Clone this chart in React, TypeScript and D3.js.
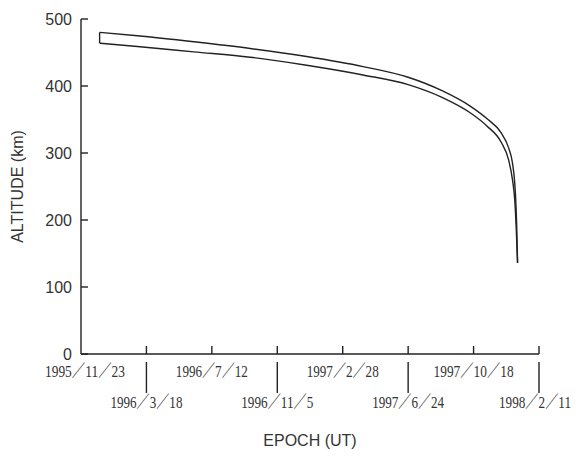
import React from "react";
import * as d3 from "d3";

// day offsets counted from the first tick date (1995/11/23)
const startDate = new Date(1995, 10, 23);
const upperDays = [33, 100, 200, 300, 400, 500, 580, 640, 690, 720, 745, 758, 765, 769, 771, 772.5, 774];
const upperAlt = [480, 475, 466, 456, 444, 429, 413, 393, 370, 351, 330, 308, 285, 255, 225, 190, 136];
const lowerDays = [33, 100, 200, 300, 400, 500, 580, 640, 690, 720, 745, 758, 765, 769, 771.5, 774];
const lowerAlt = [464, 459, 451, 443, 431, 416.5, 402, 383, 360, 340, 316, 290, 260, 230, 190, 136];

const tickLabels = [
  "1995／11／23",
  "1996／3／18",
  "1996／7／12",
  "1996／11／5",
  "1997／2／28",
  "1997／6／24",
  "1997／10／18",
  "1998／2／11",
];
const tickStep = 116; // days between ticks
const yTicks = [0, 100, 200, 300, 400, 500];

const W = 580;
const H = 457;
const left = 81;
const right = 539;
const top = 19;
const bottom = 354;

const App = () => {
  const dayToDate = (d: number) => new Date(startDate.getTime() + d * 864e5);
  const endDate = dayToDate(tickStep * (tickLabels.length - 1));
  const x = d3.scaleTime().domain([startDate, endDate]).range([left, right]);
  const y = d3.scaleLinear().domain([0, 500]).range([bottom, top]);

  const line = d3
    .line<[number, number]>()
    .x((d) => x(dayToDate(d[0])))
    .y((d) => y(d[1]))
    .curve(d3.curveMonotoneX);

  const upper = upperDays.map((d, i) => [d, upperAlt[i]] as [number, number]);
  const lower = lowerDays.map((d, i) => [d, lowerAlt[i]] as [number, number]);
  const tickDates = tickLabels.map((_, i) => dayToDate(i * tickStep));

  const labelFont = "'Liberation Serif', 'Noto Sans CJK JP', serif";
  const sans = "'Liberation Sans', Arial, sans-serif";
  const ink = "#222";
  const last = tickLabels.length - 1;

  return (
    <svg
      width={W}
      height={H}
      style={{ position: "absolute", left: 0, top: 0, background: "#fff" }}
    >
      {/* y axis */}
      <line x1={left} x2={left} y1={y(500)} y2={y(0)} stroke={ink} strokeWidth={1.4} />
      {yTicks.map((t) => (
        <g key={t}>
          <line x1={left} x2={left + 7} y1={y(t)} y2={y(t)} stroke={ink} strokeWidth={1.4} />
          <text
            x={left - 9}
            y={y(t)}
            dy="0.35em"
            textAnchor="end"
            fontFamily={sans}
            fontSize={16}
            fill="#333"
          >
            {t}
          </text>
        </g>
      ))}
      <text
        transform={`translate(23,${(y(0) + y(500)) / 2}) rotate(-90)`}
        textAnchor="middle"
        fontFamily={sans}
        fontSize={16}
        fill="#333"
      >
        ALTITUDE (km)
      </text>

      {/* x axis */}
      <line x1={left} x2={right} y1={bottom} y2={bottom} stroke={ink} strokeWidth={1.4} />
      {tickDates.map((d, i) => {
        const px = x(d);
        const odd = i % 2 === 1;
        const len = tickLabels[i].length * 8.0;
        const isLast = i === last;
        const cx = i === 0 ? px + 4 : isLast ? px - 4 + len / 2 : px;
        return (
          <g key={i}>
            {i > 0 && (
              <line x1={px} x2={px} y1={bottom} y2={bottom - 8} stroke={ink} strokeWidth={1.4} />
            )}
            {odd && (
              <line x1={px} x2={px} y1={bottom + 8} y2={bottom + 39} stroke={ink} strokeWidth={1.4} />
            )}
            <text
              x={cx}
              y={odd ? 408 : 377}
              textAnchor={isLast ? "end" : "middle"}
              fontFamily={labelFont}
              fontSize={17}
              fill="#333"
              textLength={len}
              lengthAdjust="spacingAndGlyphs"
            >
              {tickLabels[i]}
            </text>
          </g>
        );
      })}
      <text
        x={310}
        y={446}
        textAnchor="middle"
        fontFamily={sans}
        fontSize={16}
        fill="#333"
      >
        EPOCH (UT)
      </text>

      {/* altitude band */}
      <path d={line(upper) ?? ""} fill="none" stroke={ink} strokeWidth={1.4} />
      <path d={line(lower) ?? ""} fill="none" stroke={ink} strokeWidth={1.4} />
      <line
        x1={x(dayToDate(upper[0][0]))}
        x2={x(dayToDate(lower[0][0]))}
        y1={y(upper[0][1])}
        y2={y(lower[0][1])}
        stroke={ink}
        strokeWidth={1.4}
      />
    </svg>
  );
};

export default App;
